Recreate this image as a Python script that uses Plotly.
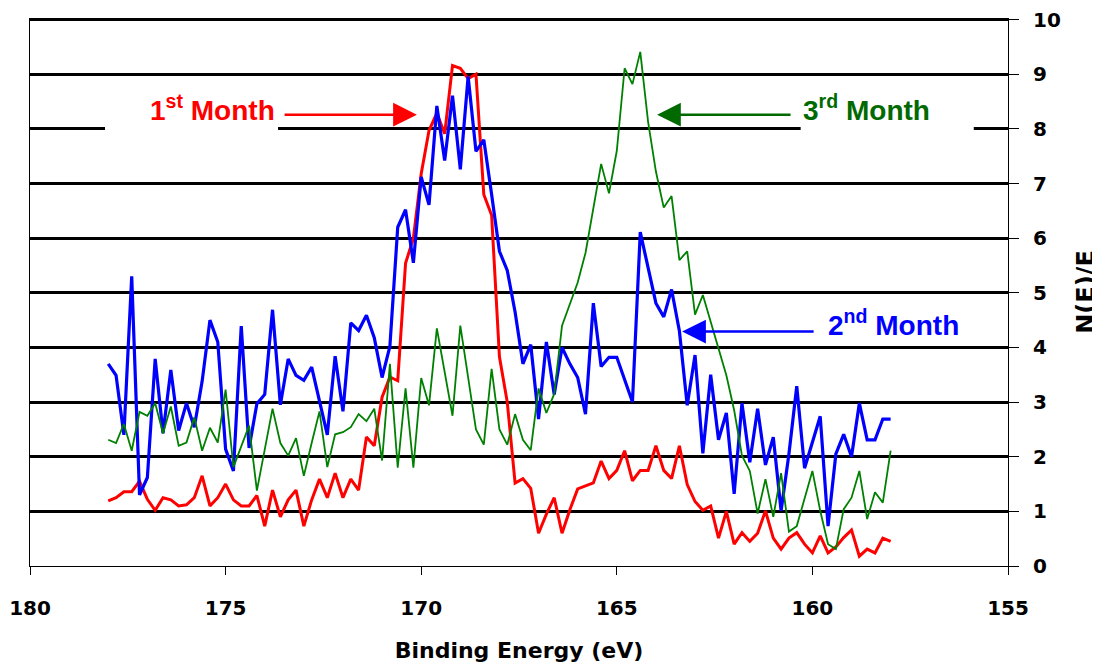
import plotly.graph_objects as go

# Binding energy grid (eV), 178.0 down to 158.0 in 0.2 eV steps
energy = [round(178.0 - 0.2 * i, 1) for i in range(101)]

month1 = [1.19, 1.25, 1.36, 1.36, 1.55, 1.22, 1.02, 1.25, 1.21, 1.10,
          1.12, 1.25, 1.65, 1.10, 1.25, 1.50, 1.21, 1.10, 1.10, 1.29,
          0.73, 1.39, 0.90, 1.21, 1.39, 0.73, 1.21, 1.59, 1.25, 1.70,
          1.25, 1.59, 1.39, 2.36, 2.20, 3.09, 3.46, 3.39, 5.54, 6.00,
          7.18, 7.97, 8.29, 7.91, 9.16, 9.11, 8.92, 9.00, 6.80, 6.42,
          3.83, 3.00, 1.52, 1.60, 1.42, 0.60, 0.95, 1.25, 0.60, 1.03,
          1.41, 1.46, 1.52, 1.92, 1.60, 1.75, 2.11, 1.56, 1.75, 1.75,
          2.20, 1.75, 1.60, 2.20, 1.49, 1.18, 1.02, 1.10, 0.51, 1.00,
          0.40, 0.61, 0.45, 0.60, 1.01, 0.51, 0.31, 0.51, 0.61, 0.40,
          0.24, 0.55, 0.24, 0.35, 0.52, 0.66, 0.18, 0.31, 0.24, 0.51,
          0.45]

month2 = [3.70, 3.49, 2.40, 5.30, 1.30, 1.62, 3.79, 2.43, 3.59, 2.48,
          2.98, 2.54, 3.38, 4.50, 4.10, 2.14, 1.74, 4.39, 2.16, 2.97,
          3.14, 4.69, 2.95, 3.79, 3.49, 3.40, 3.64, 3.02, 2.40, 3.84,
          2.83, 4.45, 4.31, 4.59, 4.18, 3.45, 4.02, 6.20, 6.52, 5.55,
          7.12, 6.61, 8.42, 7.42, 8.61, 7.26, 8.96, 7.59, 7.80, 6.80,
          5.76, 5.41, 4.65, 3.70, 4.05, 2.69, 4.10, 3.14, 4.00, 3.70,
          3.45, 2.78, 4.81, 3.65, 3.82, 3.82, 3.42, 3.00, 6.11, 5.47,
          4.81, 4.56, 5.06, 4.30, 2.94, 3.86, 2.06, 3.50, 2.31, 2.80,
          1.32, 2.98, 1.90, 2.88, 1.85, 2.36, 1.01, 2.05, 3.29, 1.79,
          2.25, 2.74, 0.73, 2.05, 2.41, 2.00, 2.98, 2.31, 2.31, 2.69,
          2.69]

month3 = [2.31, 2.25, 2.60, 2.11, 2.82, 2.75, 2.98, 2.43, 2.92, 2.20,
          2.26, 2.72, 2.11, 2.53, 2.26, 3.23, 1.81, 2.20, 2.57, 1.38,
          2.11, 2.88, 2.25, 2.02, 2.34, 1.65, 2.25, 2.83, 1.81, 2.41,
          2.45, 2.54, 2.78, 2.65, 2.88, 1.93, 3.70, 1.80, 3.25, 1.80,
          3.44, 2.94, 4.35, 3.56, 2.75, 4.40, 3.42, 2.50, 2.22, 3.61,
          2.50, 2.22, 2.78, 2.31, 2.12, 3.25, 2.80, 3.15, 4.40, 4.78,
          5.19, 5.73, 6.55, 7.36, 6.82, 7.60, 9.11, 8.82, 9.41, 8.13,
          7.22, 6.56, 6.77, 5.60, 5.76, 4.60, 4.96, 4.46, 3.96, 3.49,
          2.85, 2.02, 1.74, 0.96, 1.59, 0.90, 1.70, 0.63, 0.73, 1.22,
          1.74, 1.01, 0.40, 0.31, 1.04, 1.25, 1.74, 0.86, 1.35, 1.16,
          2.11]

x_ticks = [180, 175, 170, 165, 160, 155]
y_ticks = list(range(0, 11))

RED = "#FF0000"
BLUE = "#0000FF"
GREEN = "#008000"
DGREEN = "#006A00"

fig = go.Figure()
fig.add_trace(go.Scatter(x=energy, y=month1, mode="lines", name="1st Month",
                         line=dict(color=RED, width=3)))
fig.add_trace(go.Scatter(x=energy, y=month2, mode="lines", name="2nd Month",
                         line=dict(color=BLUE, width=3.2)))
fig.add_trace(go.Scatter(x=energy, y=month3, mode="lines", name="3rd Month",
                         line=dict(color=GREEN, width=1.8)))

tickfont = dict(family="DejaVu Sans", size=20, color="black", weight="bold")

fig.update_layout(
    width=1092, height=655,
    margin=dict(l=22, r=92, t=10, b=97),
    paper_bgcolor="white", plot_bgcolor="white",
    showlegend=False,
    xaxis=dict(
        range=[180, 155], tickvals=x_ticks, ticktext=[str(v) for v in x_ticks],
        showgrid=False, zeroline=False, automargin=False,
        showline=True, linecolor="black", linewidth=1,
        ticks="outside", ticklen=8, tickwidth=1, tickcolor="black",
        tickfont=tickfont, ticklabelstandoff=16, ticklabeloverflow="allow",
        title=dict(text="Binding Energy (eV)", standoff=24,
                   font=dict(family="DejaVu Sans", size=22, color="black", weight="bold")),
    ),
    yaxis=dict(
        range=[0, 10.03], tickvals=y_ticks, side="right", automargin=False,
        showgrid=True, gridcolor="black", gridwidth=2.5,
        zeroline=True, zerolinecolor="black", zerolinewidth=1,
        showline=True, mirror=True, linecolor="black", linewidth=1,
        ticks="outside", ticklen=10, tickwidth=1, tickcolor="black",
        tickfont=tickfont, ticklabelstandoff=10, ticklabeloverflow="allow",
        title=dict(text="N(E)/E", standoff=20,
                   font=dict(family="DejaVu Sans", size=24, color="black", weight="bold")),
    ),
)

# white label boxes that interrupt the grid line behind the labels
for bx0, bx1 in [(0.0767, 0.2536), (0.788, 0.965)]:
    fig.add_shape(type="rect", xref="paper", yref="y",
                  x0=bx0, x1=bx1, y0=7.97, y1=8.75,
                  fillcolor="white", line=dict(width=0), layer="above")

labfont = dict(family="Liberation Sans, Arial", size=28, weight="bold")
labels = [
    ("1<sup>st</sup> Month", 0.2526, 8.39, "right", RED),
    ("3<sup>rd</sup> Month", 0.788, 8.39, "left", DGREEN),
    ("2<sup>nd</sup> Month", 0.814, 4.45, "left", BLUE),
]
for txt, px, py, anc, col in labels:
    fig.add_annotation(text=txt, xref="paper", yref="y", x=px, y=py,
                       xanchor=anc, yanchor="middle", showarrow=False,
                       font=dict(color=col, **labfont))

arrows = [
    (170.11, 8.26, 173.53, 8.26, RED),
    (163.97, 8.26, 160.52, 8.26, DGREEN),
    (163.33, 4.29, 159.93, 4.29, BLUE),
]
for tx, ty, sx, sy, col in arrows:
    fig.add_annotation(x=tx, y=ty, ax=sx, ay=sy, xref="x", yref="y",
                       axref="x", ayref="y", text="", showarrow=True,
                       arrowhead=2, arrowsize=1.9, arrowwidth=2.5,
                       arrowcolor=col)

fig.write_html("out.html")
